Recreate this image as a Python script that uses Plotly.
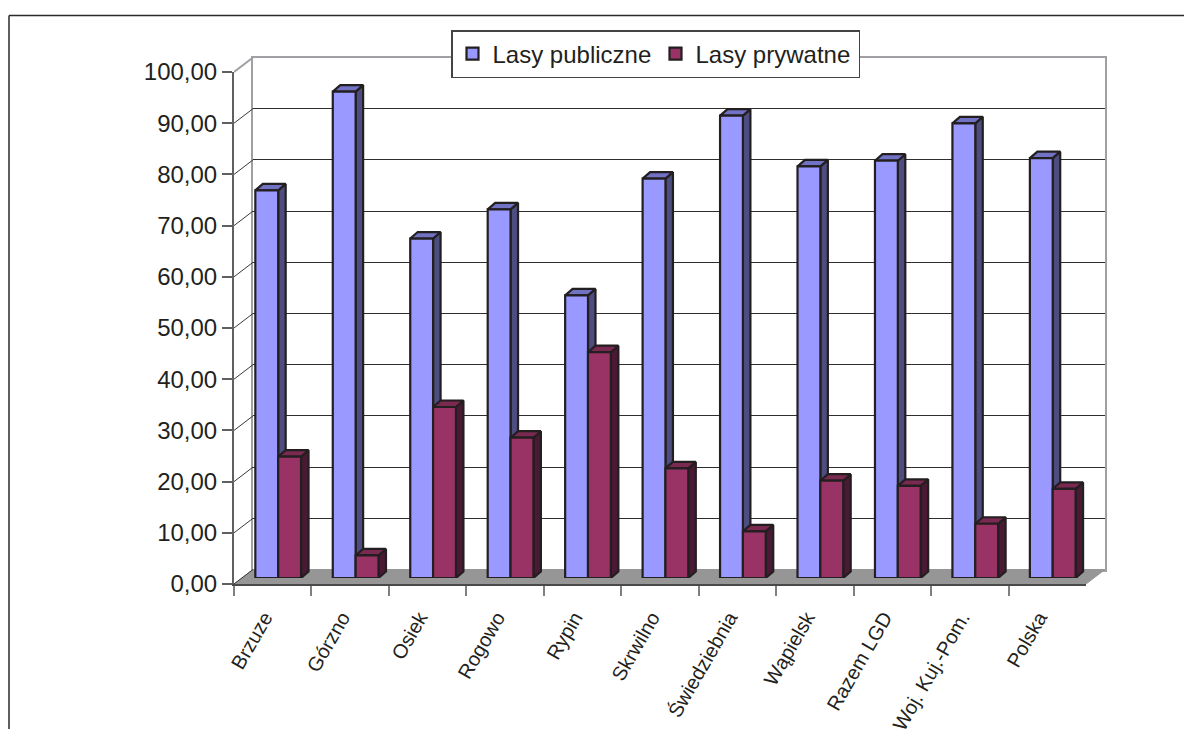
import plotly.graph_objects as go

categories = ["Brzuze", "Górzno", "Osiek", "Rogowo", "Rypin", "Skrwilno", "Świedziebnia",
              "Wąpielsk", "Razem LGD", "Woj. Kuj.-Pom.", "Polska"]
lasy_publiczne = [75.7, 95.0, 66.3, 72.0, 55.2, 78.0, 90.3, 80.4, 81.5, 88.8, 82.0]
lasy_prywatne = [23.7, 4.4, 33.4, 27.4, 44.1, 21.4, 9.1, 19.0, 18.0, 10.6, 17.4]
y_ticks = [0, 10, 20, 30, 40, 50, 60, 70, 80, 90, 100]

W, H = 1184, 729
LEFT, RIGHT, BOTTOM, TOP = 234.0, 1086.0, 584.0, 72.0
PX_X = (RIGHT - LEFT) / len(categories)
PX_Y = (BOTTOM - TOP) / 100.0
TXT = "#231f20"
EDGE = "#231f20"
WALL = "#a0a0a4"

BACK_X, BACK_Y = 19.0, 14.5
BAR_X, BAR_Y = 7.0, 6.0
DEPTH_X, DEPTH_Y = 7.5 / PX_X, 6.5 / PX_Y
BAR_W = 0.295
OFF_PUB, OFF_PRV = -0.315, -0.02
DX_B, DY_B = BACK_X / PX_X, BACK_Y / PX_Y


def xdom(shift=0):
    return [(LEFT + shift) / W, (RIGHT + shift) / W]


def ydom(shift=0):
    return [1 - (BOTTOM - shift) / H, 1 - (TOP - shift) / H]


def faces(values, offset):
    side_x, side_y, top_x, top_y = [], [], [], []
    for i, v in enumerate(values):
        l, r = i + offset, i + offset + BAR_W
        side_x += [r, r + DEPTH_X, r + DEPTH_X, r, r, None]
        side_y += [0, DEPTH_Y, v + DEPTH_Y, v, 0, None]
        top_x += [l, l + DEPTH_X, r + DEPTH_X, r, l, None]
        top_y += [v, v + DEPTH_Y, v + DEPTH_Y, v, v, None]
    return side_x, side_y, top_x, top_y


def poly(x, y, fill, xa, ya, width=2.2, color=EDGE):
    return go.Scatter(x=x, y=y, mode="lines", fill="toself", fillcolor=fill,
                      line=dict(color=color, width=width), xaxis=xa, yaxis=ya,
                      showlegend=False, hoverinfo="skip", cliponaxis=False)


fig = go.Figure()

# x/y: back wall with its gridlines (a blank trace makes the subplot exist)
fig.add_trace(go.Scatter(x=[-0.5, 10.5], y=[0, 0], mode="lines", line=dict(width=0),
                         xaxis="x", yaxis="y", showlegend=False, hoverinfo="skip"))

# x2/y2: the whole "room", from the front-left corner to the back-right corner
fig.add_trace(poly([-0.5, 10.5, 10.5 + DX_B, -0.5 + DX_B, -0.5],
                   [0, 0, DY_B, DY_B, 0], "#969696", "x2", "y2", width=1, color="#969696"))
fig.add_trace(go.Scatter(x=[-0.5, -0.5 + DX_B], y=[100, 100 + DY_B], mode="lines",
                         line=dict(color=WALL, width=2), xaxis="x2", yaxis="y2",
                         showlegend=False, hoverinfo="skip", cliponaxis=False))
for t in y_ticks[:-1]:
    fig.add_trace(go.Scatter(x=[-0.5, -0.5 + DX_B], y=[t, t + DY_B], mode="lines",
                             line=dict(color="#3a3a3a", width=1), xaxis="x2", yaxis="y2",
                             showlegend=False, hoverinfo="skip", cliponaxis=False))

# x3/y3: front axes carry the labels
fig.add_trace(go.Scatter(x=categories, y=[0] * len(categories), mode="lines",
                         line=dict(width=0), xaxis="x3", yaxis="y3",
                         showlegend=False, hoverinfo="skip"))

# x4/y4: side and top faces, behind the front faces
for vals, off, side_c, top_c in [(lasy_publiczne, OFF_PUB, "#4d4d80", "#7272c4"),
                                 (lasy_prywatne, OFF_PRV, "#4a1a35", "#7a2950")]:
    sx, sy, tx, ty = faces(vals, off)
    fig.add_trace(poly(sx, sy, side_c, "x4", "y4"))
    fig.add_trace(poly(tx, ty, top_c, "x4", "y4"))

# x5/y5: front faces
fig.add_trace(go.Bar(x=categories, y=lasy_publiczne, name="Lasy publiczne", width=BAR_W, offset=OFF_PUB,
                     marker=dict(color="#9999ff", line=dict(color=EDGE, width=2.2)),
                     xaxis="x5", yaxis="y5", cliponaxis=False))
fig.add_trace(go.Bar(x=categories, y=lasy_prywatne, name="Lasy prywatne", width=BAR_W, offset=OFF_PRV,
                     marker=dict(color="#993366", line=dict(color=EDGE, width=2.2)),
                     xaxis="x5", yaxis="y5", cliponaxis=False))

hidden = dict(visible=False, fixedrange=True)
fig.update_layout(
    width=W, height=H, margin=dict(l=0, r=0, t=0, b=0, autoexpand=False), autosize=False,
    paper_bgcolor="white", plot_bgcolor="rgba(0,0,0,0)",
    separators=", ",
    font=dict(family="Liberation Sans, Arial, sans-serif", color=TXT),
    barmode="overlay",
    xaxis=dict(domain=xdom(BACK_X), anchor="y", range=[-0.5, 10.5], showgrid=False, zeroline=False,
               showline=True, mirror=True, linecolor=WALL, linewidth=2, showticklabels=False, ticks=""),
    yaxis=dict(domain=ydom(BACK_Y), anchor="x", range=[0, 100], tickvals=y_ticks, showgrid=True,
               gridcolor="#2e2e2e", gridwidth=1, zeroline=False, showline=True, mirror=True,
               linecolor=WALL, linewidth=2, showticklabels=False, ticks=""),
    xaxis2=dict(domain=[LEFT / W, (RIGHT + BACK_X) / W], anchor="y2",
                range=[-0.5, 10.5 + DX_B], **hidden),
    yaxis2=dict(domain=[1 - BOTTOM / H, 1 - (TOP - BACK_Y) / H], anchor="x2",
                range=[0, 100 + DY_B], **hidden),
    xaxis3=dict(domain=xdom(), anchor="y3", type="category", categoryorder="array",
                categoryarray=categories, range=[-0.5, 10.5], tickson="boundaries",
                ticks="outside", ticklen=10, tickwidth=1.5, tickcolor="#808080", showgrid=False,
                zeroline=False, showline=True, linecolor="#4a4a4a", linewidth=2,
                tickangle=-60, ticklabelstandoff=12, ticklabelshift=-8,
                tickfont=dict(size=20, color=TXT)),
    yaxis3=dict(domain=ydom(), anchor="x3", range=[0, 100], tickvals=y_ticks, tickformat=".2f",
                ticks="outside", ticklen=10, tickwidth=1.5, tickcolor="#606060", showgrid=False,
                zeroline=False, showline=True, linecolor="#606060", linewidth=2,
                tickfont=dict(size=24, color=TXT)),
    xaxis4=dict(domain=xdom(BAR_X), anchor="y4", range=[-0.5, 10.5], **hidden),
    yaxis4=dict(domain=ydom(BAR_Y), anchor="x4", range=[0, 100], **hidden),
    xaxis5=dict(domain=xdom(BAR_X), anchor="y5", type="category", categoryorder="array",
                categoryarray=categories, range=[-0.5, 10.5], **hidden),
    yaxis5=dict(domain=ydom(BAR_Y), anchor="x5", range=[0, 100], **hidden),
    legend=dict(orientation="h", x=451 / W, xanchor="left", y=1 - 30 / H, yanchor="top",
                bgcolor="white", bordercolor="#444444", borderwidth=1.5, entrywidth=158,
                entrywidthmode="pixels", font=dict(size=24, color=TXT), traceorder="normal"),
    shapes=[
        dict(type="line", xref="paper", yref="paper", x0=9 / W, x1=1, y0=1 - 15.5 / H, y1=1 - 15.5 / H,
             line=dict(color="#2a2a2a", width=1.5)),
        dict(type="line", xref="paper", yref="paper", x0=9 / W, x1=9 / W, y0=1 - 15.5 / H, y1=0,
             line=dict(color="#2a2a2a", width=1.5)),
    ],
)

fig.write_html("out.html", config={"displayModeBar": False},
               post_script="document.body.style.margin='0';")
